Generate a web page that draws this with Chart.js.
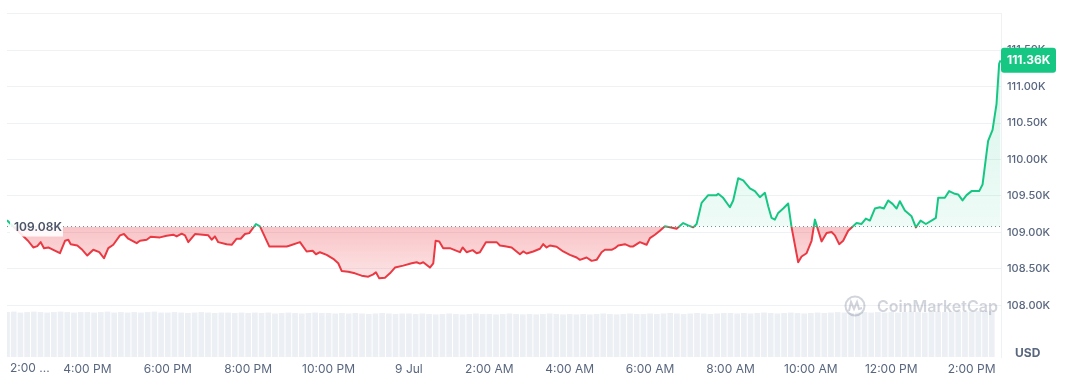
<!DOCTYPE html>
<html>
<head>
<meta charset="utf-8">
<script src="https://cdn.jsdelivr.net/npm/chart.js@4.4.1/dist/chart.umd.min.js"></script>
<style>
  html, body { margin: 0; padding: 0; background: #fff; }
  #wrap { width: 1072px; height: 378px; position: relative; }
</style>
</head>
<body>
<div id="wrap"><canvas id="price-chart"></canvas></div>
<script>
// hours since 2:00 PM, 8 Jul
const hours = [
  0, 0.522, 0.654, 0.754, 0.838, 0.920, 1.027, 1.152, 1.318, 1.443,
  1.525, 1.585, 1.749, 1.858, 1.998, 2.147, 2.296, 2.413, 2.520, 2.644,
  2.811, 2.910, 3.017, 3.226, 3.308, 3.475, 3.575, 3.806, 3.973, 4.137,
  4.221, 4.346, 4.428, 4.510, 4.677, 5.007, 5.092, 5.174, 5.256, 5.465,
  5.590, 5.714, 5.814, 5.920, 6.027, 6.194, 6.294, 6.525, 6.958, 7.022,
  7.289, 7.455, 7.604, 7.687, 7.786, 7.953, 8.117, 8.241, 8.326, 8.490,
  8.657, 8.823, 8.988, 9.112, 9.179, 9.261, 9.403, 9.527, 9.652, 9.858,
  10.067, 10.192, 10.274, 10.356, 10.522, 10.605, 10.664, 10.754, 10.853, 11.020,
  11.187, 11.269, 11.336, 11.435, 11.585, 11.684, 11.766, 11.915, 12.182, 12.264,
  12.388, 12.555, 12.761, 12.843, 12.928, 13.092, 13.259, 13.341, 13.425, 13.507,
  13.674, 13.838, 14.005, 14.172, 14.254, 14.420, 14.545, 14.669, 14.793, 14.876,
  15.042, 15.124, 15.206, 15.373, 15.498, 15.580, 15.746, 15.913, 15.995, 16.119,
  16.244, 16.368, 16.493, 16.659, 16.823, 16.948, 17.072, 17.157, 17.281, 17.445,
  17.654, 17.694, 17.818, 17.985, 18.067, 18.192, 18.316, 18.483, 18.607, 18.731,
  18.856, 18.938, 19.022, 19.104, 19.187, 19.311, 19.435, 19.520, 19.684, 19.769,
  19.893, 20.017, 20.100, 20.266, 20.391, 20.515, 20.597, 20.704, 20.803, 20.928,
  21.137, 21.261, 21.368, 21.468, 21.592, 21.716, 21.816, 21.923, 22.032, 22.132,
  22.214, 22.338, 22.505, 22.612, 22.729, 22.861, 23.042, 23.109, 23.167, 23.333,
  23.440, 23.582, 23.664, 23.773, 23.873, 23.997, 24.187, 24.271, 24.371, 24.410,
  24.520, 24.619, 24.684, 24.719
];

// BTC price, thousands of USD
const prices = [
  109.166, 108.885, 108.793, 108.811, 108.866, 108.783, 108.793, 108.761, 108.714, 108.885,
  108.899, 108.838, 108.820, 108.769, 108.682, 108.761, 108.728, 108.645, 108.783, 108.830,
  108.959, 108.977, 108.913, 108.852, 108.885, 108.899, 108.941, 108.931, 108.954, 108.968,
  108.945, 108.982, 108.959, 108.866, 108.977, 108.959, 108.899, 108.945, 108.866, 108.838,
  108.830, 108.913, 108.913, 108.977, 108.990, 109.115, 109.083, 108.807, 108.807, 108.816,
  108.866, 108.738, 108.747, 108.700, 108.728, 108.692, 108.637, 108.576, 108.471, 108.461,
  108.438, 108.406, 108.392, 108.424, 108.452, 108.369, 108.378, 108.438, 108.517, 108.544,
  108.576, 108.590, 108.572, 108.590, 108.517, 108.576, 108.885, 108.876, 108.783, 108.783,
  108.747, 108.728, 108.793, 108.728, 108.756, 108.714, 108.728, 108.866, 108.866, 108.820,
  108.811, 108.793, 108.700, 108.738, 108.710, 108.738, 108.775, 108.838, 108.793, 108.820,
  108.802, 108.738, 108.692, 108.655, 108.623, 108.655, 108.609, 108.623, 108.728, 108.761,
  108.761, 108.783, 108.820, 108.838, 108.807, 108.807, 108.866, 108.830, 108.921, 108.968,
  109.023, 109.083, 109.069, 109.051, 109.128, 109.097, 109.069, 109.115, 109.405, 109.511,
  109.511, 109.529, 109.474, 109.345, 109.438, 109.742, 109.714, 109.604, 109.566, 109.483,
  109.543, 109.359, 109.198, 109.175, 109.267, 109.327, 109.396, 109.069, 108.590, 108.669,
  108.714, 108.885, 109.175, 108.876, 108.990, 109.004, 108.959, 108.838, 108.885, 109.023,
  109.128, 109.115, 109.189, 109.162, 109.327, 109.345, 109.327, 109.438, 109.391, 109.327,
  109.428, 109.300, 109.221, 109.069, 109.162, 109.115, 109.175, 109.198, 109.474, 109.474,
  109.566, 109.529, 109.521, 109.438, 109.511, 109.566, 109.566, 109.656, 110.091, 110.257,
  110.405, 110.764, 111.316, 111.36
];

// volume bars, one every 10 minutes (relative height)
const volumes = [
  97, 98, 96, 97, 98, 97, 96, 97, 98, 97, 96, 97,
  97, 96, 97, 98, 96, 97, 96, 97, 96, 97, 98, 96,
  96, 97, 96, 95, 96, 97, 96, 95, 96, 96, 95, 96,
  95, 96, 95, 96, 94, 95, 96, 95, 94, 95, 96, 95,
  95, 94, 95, 94, 95, 94, 93, 94, 95, 94, 93, 94,
  94, 93, 94, 93, 92, 93, 94, 93, 92, 93, 94, 93,
  93, 92, 93, 94, 93, 92, 93, 92, 93, 94, 93, 92,
  93, 92, 93, 92, 93, 94, 93, 92, 93, 94, 93, 93,
  94, 93, 94, 95, 94, 93, 94, 95, 94, 93, 94, 95,
  95, 94, 95, 94, 95, 96, 95, 94, 95, 96, 95, 94,
  95, 96, 95, 96, 97, 96, 95, 96, 97, 96, 97, 96,
  97, 96, 97, 98, 97, 96, 97, 98, 97, 98, 99, 98,
  98, 99, 100, 99
];

const xTickLabels = ['2:00 ...', '4:00 PM', '6:00 PM', '8:00 PM', '10:00 PM', '9 Jul', '2:00 AM',
  '4:00 AM', '6:00 AM', '8:00 AM', '10:00 AM', '12:00 PM', '2:00 PM'];

const openPrice = 109.08;
const lastPrice = 111.36;
const xEnd = 24.73;

const GREEN = '#16c784';
const RED = '#ea3943';
const TEXT = '#58667e';
const GRID = '#eff2f5';
const FONT = 'Inter, "Noto Sans", sans-serif';

function baseFraction(chart) {
  const area = chart.chartArea;
  const y = chart.scales.y.getPixelForValue(openPrice);
  return Math.min(1, Math.max(0, (y - area.top) / (area.bottom - area.top)));
}

function lineGradient(c) {
  const chart = c.chart;
  if (!chart.chartArea) return GREEN;
  const area = chart.chartArea;
  const f = baseFraction(chart);
  const g = chart.ctx.createLinearGradient(0, area.top, 0, area.bottom);
  g.addColorStop(0, GREEN);
  g.addColorStop(f, GREEN);
  g.addColorStop(f, RED);
  g.addColorStop(1, RED);
  return g;
}

function fillGradient(c) {
  const chart = c.chart;
  if (!chart.chartArea) return 'transparent';
  const area = chart.chartArea;
  const f = baseFraction(chart);
  const g = chart.ctx.createLinearGradient(0, area.top, 0, area.bottom);
  g.addColorStop(0, 'rgba(22,199,132,0.2)');
  g.addColorStop(f, 'rgba(22,199,132,0.07)');
  g.addColorStop(f, 'rgba(234,57,67,0.3)');
  g.addColorStop(Math.min(1, f + 0.16), 'rgba(234,57,67,0.12)');
  g.addColorStop(1, 'rgba(234,57,67,0.03)');
  return g;
}

const overlay = {
  id: 'overlay',
  afterDraw(chart) {
    const ctx = chart.ctx;
    const area = chart.chartArea;
    const y = chart.scales.y;
    ctx.save();

    // first x label, cut like the original
    ctx.font = '12px ' + FONT;
    ctx.fillStyle = TEXT;
    ctx.textAlign = 'left';
    ctx.textBaseline = 'middle';
    ctx.fillText(xTickLabels[0], area.left + 3, 368);

    // watermark
    ctx.globalAlpha = 0.28;
    ctx.strokeStyle = TEXT;
    ctx.lineWidth = 2;
    ctx.beginPath();
    ctx.arc(855, 306, 9.5, 0, Math.PI * 2);
    ctx.stroke();
    ctx.beginPath();
    ctx.moveTo(849, 311);
    ctx.lineTo(851, 302);
    ctx.lineTo(854, 309);
    ctx.lineTo(857, 302);
    ctx.lineTo(859, 309);
    ctx.lineTo(862, 308);
    ctx.stroke();
    ctx.fillStyle = TEXT;
    ctx.font = '600 16px ' + FONT;
    ctx.fillText('CoinMarketCap', 877, 307);
    ctx.globalAlpha = 1;

    // open price label on the dotted line
    const yb = y.getPixelForValue(openPrice);
    ctx.fillStyle = 'rgba(255,255,255,0.88)';
    ctx.fillRect(area.left + 3, yb - 9, 53, 19);
    ctx.fillStyle = '#4b5567';
    ctx.font = '600 12px ' + FONT;
    ctx.fillText(openPrice.toFixed(2) + 'K', area.left + 7, yb + 1);

    // last price tag
    const yl = y.getPixelForValue(lastPrice);
    ctx.fillStyle = GREEN;
    ctx.beginPath();
    ctx.roundRect(area.right, yl - 12.5, 55, 25, 3);
    ctx.fill();
    ctx.fillStyle = '#fff';
    ctx.font = '700 12px ' + FONT;
    ctx.fillText(lastPrice.toFixed(2) + 'K', area.right + 6, yl + 0.5);

    // currency
    ctx.fillStyle = TEXT;
    ctx.font = '700 12px ' + FONT;
    ctx.fillText('USD', area.right + 14, 353);
    ctx.restore();
  }
};

const ctx = document.getElementById('price-chart').getContext('2d');
const priceChart = new Chart(ctx, {
  type: 'line',
  data: {
    datasets: [
      {
        label: 'Price',
        data: hours.map((h, i) => ({ x: h, y: prices[i] })),
        borderColor: lineGradient,
        backgroundColor: fillGradient,
        borderWidth: 2,
        borderJoinStyle: 'round',
        pointRadius: 0,
        tension: 0,
        fill: { target: { value: openPrice } },
        yAxisID: 'y'
      },
      {
        label: 'Open',
        data: [{ x: 0, y: openPrice }, { x: xEnd, y: openPrice }],
        borderColor: '#7d8596',
        borderWidth: 1,
        borderDash: [1, 3],
        pointRadius: 0,
        fill: false,
        yAxisID: 'y'
      },
      {
        type: 'bar',
        label: 'Volume',
        data: volumes.map((v, i) => ({ x: i / 6, y: v })),
        backgroundColor: '#eceff3',
        barPercentage: 1,
        categoryPercentage: 0.85,
        yAxisID: 'yv'
      }
    ]
  },
  options: {
    responsive: true,
    maintainAspectRatio: false,
    animation: false,
    layout: { padding: { left: 7, top: 13, right: 0, bottom: 0 } },
    plugins: { legend: { display: false }, tooltip: { enabled: false } },
    scales: {
      x: {
        type: 'linear',
        min: 0,
        max: xEnd,
        offset: false,
        border: { display: false },
        grid: {
          drawTicks: false,
          color: c => (c.tick && c.tick.value === 0 ? GRID : 'transparent')
        },
        ticks: {
          stepSize: 2,
          includeBounds: false,
          autoSkip: false,
          maxRotation: 0,
          padding: 5,
          color: TEXT,
          font: { family: FONT, size: 12 },
          callback: v => (v === 0 ? '' : xTickLabels[Math.round(v / 2)])
        },
        afterFit: s => { s.height = 21; }
      },
      y: {
        position: 'right',
        min: 107.29,
        max: 112.01,
        border: { display: true, color: GRID },
        grid: {
          drawTicks: false,
          color: c => (c.tick && c.tick.value >= 108 ? GRID : 'transparent')
        },
        ticks: {
          stepSize: 0.5,
          includeBounds: false,
          padding: 6,
          color: TEXT,
          font: { family: FONT, size: 11, weight: 500 },
          callback: v => (v >= 108 && v < 111.9 ? v.toFixed(2) + 'K' : '')
        },
        afterFit: s => { s.width = 71; }
      },
      yv: {
        display: false,
        min: 0,
        max: 743
      }
    }
  },
  plugins: [overlay]
});
</script>
</body>
</html>
